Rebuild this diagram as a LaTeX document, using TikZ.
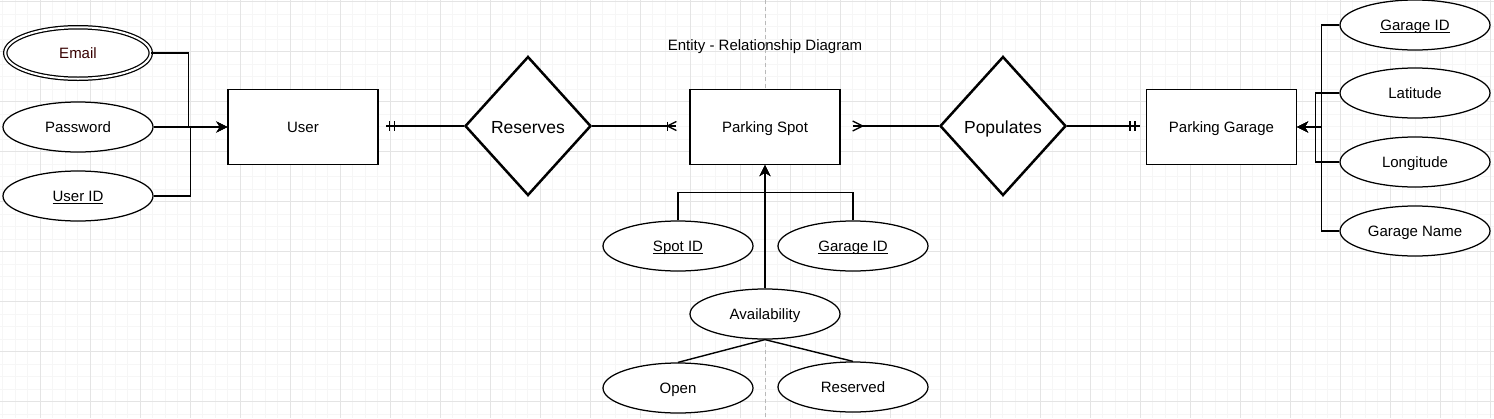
\documentclass[tikz,border=0pt]{standalone}
\usepackage{fontspec}
\setmainfont{Liberation Sans}
\usetikzlibrary{shapes.geometric,arrows.meta,calc}
\definecolor{gridmajor}{RGB}{228,228,228}
\definecolor{gridminor}{RGB}{246,246,246}
\definecolor{pageline}{RGB}{185,185,185}
\definecolor{emailtext}{RGB}{55,0,0}
\newcommand{\keyattr}[1]{\underline{\smash{#1}}}
\tikzset{
  entity/.style={draw, line width=1.25pt, fill=white, minimum width=150pt, minimum height=75pt, inner sep=0pt, text height=11pt, text depth=0pt, font=\fontsize{15}{18}\selectfont},
  attr/.style={ellipse, draw, line width=1.25pt, fill=white, minimum width=150pt, minimum height=50pt, inner sep=0pt, text height=11pt, text depth=0pt, font=\fontsize{15}{18}\selectfont},
  relation/.style={diamond, draw, line width=2.5pt, fill=white, minimum width=126pt, minimum height=139pt, inner sep=0pt, text height=14.5pt, text depth=0pt, font=\fontsize{17.5}{21}\selectfont},
  conn/.style={line width=1.4pt},
  arr/.style={conn, -{Stealth[length=11pt,width=11pt,inset=3.5pt]}},
}
\begin{document}
\begin{tikzpicture}[x=1pt, y=-1pt]
    \useasboundingbox[fill=white] (0,0) rectangle (1494,418);
    % Сетка
    \foreach \i in {-3,...,116} \draw[gridminor, line width=0.8pt] ({40+12.5*\i},0) -- ({40+12.5*\i},418);
    \foreach \j in {0,...,33} \draw[gridminor, line width=0.8pt] (0,{1.5+12.5*\j}) -- (1494,{1.5+12.5*\j});
    \foreach \i in {0,...,29} \draw[gridmajor, line width=0.8pt] ({40+50*\i},0) -- ({40+50*\i},418);
    \foreach \j in {0,...,8} \draw[gridmajor, line width=0.8pt] (0,{1.5+50*\j}) -- (1494,{1.5+50*\j});
    \draw[pageline, line width=1pt, dash pattern=on 4pt off 3pt] (765,0) -- (765,418);
    % Заголовок
    \node[anchor=base, font=\fontsize{15}{18}\selectfont] (title) at (765,50) {Entity - Relationship Diagram};
    % Сущности и связи
    \node[entity] (user) at (303,127) {User};
    \node[entity] (spot) at (765,127) {Parking Spot};
    \node[entity] (garage) at (1221.5,127) {Parking Garage};
    \node[relation] (reserves) at (528,126) {Reserves};
    \node[relation] (populates) at (1003,126) {Populates};
    % Атрибуты
    \node[attr, double, double distance=2pt, minimum width=145.5pt, minimum height=51.5pt, text=emailtext] (email) at (78,53) {Email};
    \node[attr] (password) at (78,127) {Password};
    \node[attr] (userid) at (78,196) {\keyattr{User ID}};
    \node[attr] (spotid) at (678,246) {\keyattr{Spot ID}};
    \node[attr] (spotgarageid) at (853,246) {\keyattr{Garage ID}};
    \node[attr] (avail) at (765,314) {Availability};
    \node[attr] (open) at (678,388) {Open};
    \node[attr] (reserved) at (853,387) {Reserved};
    \node[attr] (garageid) at (1415,25) {\keyattr{Garage ID}};
    \node[attr] (latitude) at (1415,93) {Latitude};
    \node[attr] (longitude) at (1415,162) {Longitude};
    \node[attr] (garagename) at (1415,231) {Garage Name};
    % Линии к User
    \draw[arr] (email.east) -- ++(37,0) |- (user.west);
    \draw[arr] (password.east) -- (user.west);
    \draw[arr] (userid.east) -- ++(37,0) |- (user.west);
    % Линии к Parking Spot
    \draw[arr] (spotid.north) -- ++(0,-28) -| (spot.south);
    \draw[arr] (spotgarageid.north) -- ++(0,-28) -| (spot.south);
    \draw[arr] (avail.north) -- (spot.south);
    \draw[conn] (avail.south) -- (open.north);
    \draw[conn] (avail.south) -- (reserved.north);
    % Линии к Parking Garage
    \draw[arr] (garageid.west) -- ++(-18,0) |- (garage.east);
    \draw[arr] (garagename.west) -- ++(-18,0) |- (garage.east);
    \draw[arr] (latitude.west) -- ++(-24,0) |- (garage.east);
    \draw[arr] (longitude.west) -- ++(-24,0) |- (garage.east);
    % Reserves: один -- много
    \coordinate (ru) at (reserves.west -| user.east);
    \coordinate (rs) at (reserves.east -| spot.west);
    \draw[conn, shorten >=7pt] (reserves.west) -- (ru);
    \draw[conn] ($(ru)+(11,-5)$) -- ++(0,10);
    \draw[conn] ($(ru)+(16,-5)$) -- ++(0,10);
    \draw[conn, shorten >=13pt] (reserves.east) -- (rs);
    \draw[conn] ($(rs)+(-22,-4.5)$) -- ++(0,9);
    \draw[conn] ($(rs)+(-13,-4.5)$) -- ($(rs)+(-22,0)$) -- ($(rs)+(-13,4.5)$);
    % Populates: много -- один
    \coordinate (ps) at (populates.west -| spot.east);
    \coordinate (pg) at (populates.east -| garage.west);
    \draw[conn, shorten >=12pt] (populates.west) -- (ps);
    \draw[conn] ($(ps)+(12,-5)$) -- ($(ps)+(22,0)$) -- ($(ps)+(12,5)$);
    \draw[conn, shorten >=6pt] (populates.east) -- (pg);
    \draw[conn] ($(pg)+(-16,-5)$) -- ++(0,10);
    \draw[conn] ($(pg)+(-11,-5)$) -- ++(0,10);
\end{tikzpicture}
\end{document}
